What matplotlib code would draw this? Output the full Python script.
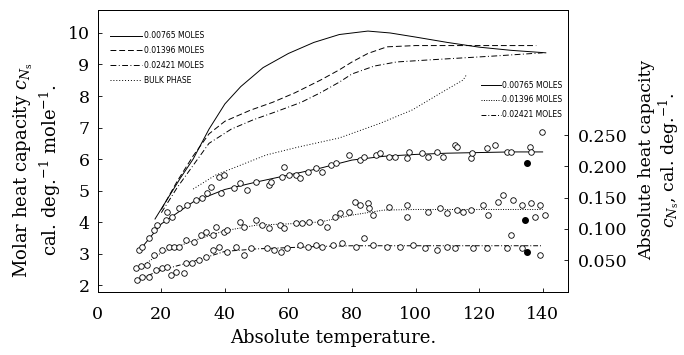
import matplotlib
matplotlib.use("Agg")
from matplotlib import pyplot as plt

plt.rcParams['font.family'] = ['DejaVu Serif']
plt.rcParams['mathtext.fontset'] = 'dejavuserif'

# molar heat capacity curves (left axis)
t_765 = [18, 22, 26, 30, 35, 40, 45, 52, 60, 68, 76, 85, 92, 100, 110, 120, 130, 141]
c_765 = [4.1, 4.75, 5.4, 6.0, 6.95, 7.75, 8.3, 8.9, 9.35, 9.7, 9.95, 10.06, 10.0, 9.87, 9.7, 9.55, 9.45, 9.37]
t_1396 = [20, 25, 30, 35, 40, 48, 55, 62, 70, 76, 80, 85, 91, 100, 110, 120, 130, 138]
c_1396 = [4.4, 5.3, 6.1, 6.8, 7.2, 7.55, 7.8, 8.1, 8.5, 8.83, 9.08, 9.35, 9.56, 9.6, 9.6, 9.6, 9.6, 9.6]
t_2421 = [20, 25, 30, 35, 42, 49, 56, 64, 70, 76, 80, 87, 94, 105, 115, 125, 140]
c_2421 = [4.3, 5.1, 5.8, 6.5, 6.95, 7.25, 7.5, 7.8, 8.1, 8.44, 8.7, 8.95, 9.08, 9.15, 9.21, 9.27, 9.37]
t_bulk = [30, 37, 45, 53, 63, 76, 89, 99, 108, 115, 116]
c_bulk = [5.05, 5.49, 5.81, 6.13, 6.38, 6.67, 7.14, 7.56, 8.1, 8.51, 8.67]

# absolute heat capacity points (right axis)
pt_765 = [13.1, 14.0, 16.2, 17.8, 18.7, 21.6, 21.9, 23.5, 25.7, 28.2, 31.0, 32.9, 34.3, 35.7, 38.3, 39.8,
          38.9, 43.0, 44.6, 47.1, 49.9, 54.0, 54.6, 58.1, 58.7, 60.3, 62.5, 63.5, 66.0, 68.8, 70.7, 73.5,
          75.1, 79.2, 82.4, 83.9, 87.7, 88.7, 91.8, 93.4, 97.2, 98.1, 101.9, 103.8, 106.9, 108.5, 112.3,
          113.2, 117.6, 117.9, 122.6, 124.9, 128.7, 130.2, 135.9, 136.5, 139.7]
pc_765 = [0.066, 0.071, 0.085, 0.098, 0.106, 0.114, 0.127, 0.119, 0.133, 0.138, 0.146, 0.149, 0.157, 0.167,
          0.183, 0.186, 0.157, 0.165, 0.173, 0.162, 0.175, 0.170, 0.175, 0.183, 0.199, 0.186, 0.186, 0.181,
          0.191, 0.197, 0.191, 0.202, 0.205, 0.218, 0.210, 0.215, 0.218, 0.221, 0.215, 0.215, 0.213, 0.223,
          0.221, 0.215, 0.223, 0.215, 0.234, 0.231, 0.213, 0.221, 0.229, 0.234, 0.223, 0.223, 0.231, 0.223,
          0.255]
pt_1396 = [12.1, 13.7, 15.6, 17.8, 20.3, 22.5, 24.1, 25.7, 27.9, 30.4, 32.6, 34.2, 36.1, 37.3, 39.8, 40.8,
           44.6, 46.1, 49.9, 51.8, 54.0, 57.2, 58.7, 62.5, 64.4, 66.6, 69.8, 72.0, 74.5, 76.1, 79.2, 80.8,
           82.4, 84.9, 85.5, 86.5, 91.8, 97.2, 97.2, 103.8, 107.6, 109.8, 113.2, 114.8, 117.6, 121.1, 122.7,
           125.8, 127.4, 130.6, 133.4, 136.5, 139.1, 140.6, 137.5]
pc_1396 = [0.037, 0.040, 0.042, 0.058, 0.066, 0.071, 0.071, 0.071, 0.082, 0.079, 0.090, 0.095, 0.090, 0.103,
           0.095, 0.098, 0.111, 0.103, 0.114, 0.106, 0.101, 0.106, 0.101, 0.109, 0.109, 0.111, 0.111, 0.103,
           0.119, 0.125, 0.127, 0.143, 0.138, 0.141, 0.133, 0.122, 0.135, 0.138, 0.119, 0.127, 0.133, 0.125,
           0.130, 0.127, 0.130, 0.138, 0.122, 0.143, 0.154, 0.146, 0.138, 0.141, 0.138, 0.122, 0.119]
pt_2421 = [12.4, 14.0, 16.2, 18.4, 20.3, 21.9, 23.1, 24.7, 27.2, 27.9, 29.8, 32.0, 34.2, 36.1, 38.3, 40.8,
           43.6, 46.1, 48.3, 53.1, 55.6, 57.8, 59.4, 63.5, 66.0, 68.8, 70.7, 73.9, 77.0, 81.4, 83.9, 86.5,
           90.9, 95.0, 99.1, 102.9, 106.6, 109.8, 112.3, 118.2, 122.6, 128.7, 130.2, 133.4, 139.1]
pc_2421 = [0.018, 0.023, 0.023, 0.034, 0.037, 0.039, 0.026, 0.031, 0.029, 0.045, 0.045, 0.050, 0.055, 0.066,
           0.071, 0.063, 0.071, 0.058, 0.069, 0.069, 0.066, 0.063, 0.069, 0.074, 0.071, 0.074, 0.071, 0.074,
           0.077, 0.071, 0.085, 0.074, 0.071, 0.071, 0.074, 0.069, 0.066, 0.071, 0.069, 0.069, 0.069, 0.069,
           0.090, 0.069, 0.058]
# filled points
ft = [135.0, 134.3, 135.0]
fc = [0.205, 0.114, 0.063]

# smoothed lines through the points
lt = [13, 20, 30, 40, 50, 60, 70, 80, 90, 100, 110, 120, 130, 140]
l_765 = [0.065, 0.108, 0.143, 0.163, 0.175, 0.186, 0.197, 0.210, 0.216, 0.219, 0.221, 0.222, 0.223, 0.223]
l_1396 = [0.037, 0.062, 0.081, 0.097, 0.106, 0.108, 0.111, 0.122, 0.130, 0.131, 0.131, 0.131, 0.131, 0.131]
l_2421 = [0.020, 0.034, 0.048, 0.064, 0.068, 0.070, 0.072, 0.073, 0.073, 0.073, 0.073, 0.073, 0.073, 0.073]

fig = plt.figure(figsize=(6.84, 3.55), dpi=100)
ax = fig.add_axes([0.143, 0.177, 0.687, 0.795])
ax2 = ax.twinx()

lw = 0.7
ax.plot(t_765, c_765, c='black', lw=lw, ls='-', label='0.00765 MOLES')
ax.plot(t_1396, c_1396, c='black', lw=lw, ls=(0, (6, 3)), label='0.01396 MOLES')
ax.plot(t_2421, c_2421, c='black', lw=lw, ls=(0, (6, 2.5, 1, 2.5)), label='0.02421 MOLES')
ax.plot(t_bulk, c_bulk, c='black', lw=lw, ls=(0, (1, 2)), label='BULK PHASE')

ms = 4.0
l1, = ax2.plot(lt, l_765, c='black', lw=lw, ls='-', label='0.00765 MOLES')
l2, = ax2.plot(lt, l_1396, c='black', lw=lw, ls=(0, (1, 1.5)), label='0.01396 MOLES')
l3, = ax2.plot(lt, l_2421, c='black', lw=lw, ls=(0, (5, 2, 1, 2)), label='0.02421 MOLES')
for t, c in [(pt_765, pc_765), (pt_1396, pc_1396), (pt_2421, pc_2421)]:
    ax2.plot(t, c, 'o', mfc='white', mec='black', mew=0.6, ms=ms)
ax2.plot(ft, fc, 'o', c='black', ms=4)

ax.set_xlim(0, 147.9)
ax.set_ylim(1.78, 10.73)
ax2.set_ylim(-0.0012, 0.45)
ax.set_xticks(range(0, 141, 20))
ax.set_yticks(range(2, 11))
ax2.set_yticks([0.05, 0.10, 0.15, 0.20, 0.25])
ax2.set_yticklabels(['0.050', '0.100', '0.150', '0.200', '0.250'])
ax.tick_params(axis='both', direction='in', length=3, width=0.6, labelsize=12.5, pad=6)
ax2.tick_params(axis='y', direction='in', length=3, width=0.6, labelsize=12.5, pad=7)
ax.tick_params(axis='x', pad=10)
for a in (ax, ax2):
    for s in a.spines.values():
        s.set_linewidth(0.7)

leg1 = ax.legend(loc='upper left', bbox_to_anchor=(0.02, 0.935), frameon=False,
                 prop={'family': 'DejaVu Sans', 'size': 5.5}, handlelength=4.2,
                 handletextpad=0.2, labelspacing=0.75, borderaxespad=0)
leg2 = ax2.legend(handles=[l1, l2, l3], loc='upper right', bbox_to_anchor=(0.995, 0.76),
                  frameon=False, prop={'family': 'DejaVu Sans', 'size': 5.5}, handlelength=2.6,
                  handletextpad=0.1, labelspacing=0.75, borderaxespad=0)

ax.set_xlabel('Absolute temperature.', fontsize=13, labelpad=4)
fig.text(0.035, 0.52, 'Molar heat capacity $c_{N_{\\rm s}}$', rotation=90, ha='center', va='center', fontsize=13)
fig.text(0.073, 0.52, 'cal. deg.$^{-1}$ mole$^{-1}$.', rotation=90, ha='center', va='center', fontsize=13)
fig.text(0.945, 0.55, 'Absolute heat capacity', rotation=90, ha='center', va='center', fontsize=12.5)
fig.text(0.978, 0.55, '$c_{N_{\\rm s}}$, cal. deg.$^{-1}$.', rotation=90, ha='center', va='center', fontsize=12.5)

plt.savefig('out.png', dpi=100)
